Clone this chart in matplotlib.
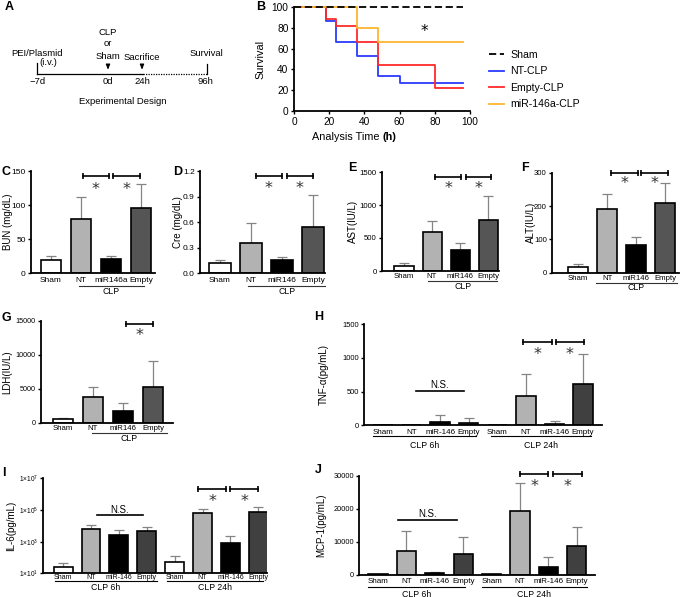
import numpy as np
import matplotlib
matplotlib.use('Agg')
import matplotlib.pyplot as plt
from matplotlib.transforms import blended_transform_factory

plt.rcParams['font.family'] = ['Liberation Sans', 'DejaVu Sans']
plt.rcParams['mathtext.fontset'] = 'custom'
plt.rcParams['mathtext.rm'] = 'Liberation Sans'
plt.rcParams['mathtext.it'] = 'Liberation Sans:italic'
plt.rcParams['mathtext.bf'] = 'Liberation Sans:bold'

W, H = 685, 597

# ---------------- data ----------------
# B: Kaplan-Meier survival (%)
sham_t = [0, 96];                          sham_s = [100, 100]
nt_t = [0, 18, 24, 36, 48, 60, 96];        nt_s = [100, 86.7, 66.7, 53.3, 33.3, 26.7, 26.7]
empty_t = [0, 18, 24, 36, 48, 80, 96];     empty_s = [100, 88.0, 81.3, 66.7, 44.4, 22.2, 22.2]
mir_t = [0, 36, 48, 96];                   mir_s = [100, 80, 66.7, 66.7]
surv_labels = ['Sham', 'NT-CLP', 'Empty-CLP', 'miR-146a-CLP']

# C-G (4 groups)
cats_c = ['Sham', 'NT', 'miR146a', 'Empty']
cats_4 = ['Sham', 'NT', 'miR146', 'Empty']
bun_mean = [20, 79, 21.5, 96];          bun_sd = [5, 33, 4.5, 35]
cre_mean = [0.125, 0.35, 0.155, 0.54];  cre_sd = [0.03, 0.245, 0.033, 0.38]
ast_mean = [70, 585, 320, 778];         ast_sd = [45, 177, 104, 363]
alt_mean = [18, 190, 82, 210];          alt_sd = [8, 46, 24, 60]
ldh_mean = [490, 3820, 1720, 5200];     ldh_sd = [245, 1470, 1220, 3820]

# H-J (8 groups: CLP 6h, CLP 24h)
cats_8 = ['Sham', 'NT', 'miR-146', 'Empty', 'Sham', 'NT', 'miR-146', 'Empty']
time_groups = ['CLP 6h', 'CLP 24h']
tnf_mean = [0, 8, 45, 35, 0, 431, 20, 614]
tnf_sd = [0, 0, 108, 74, 0, 331, 39, 445]
il6_mean = [25, 6000, 2500, 5000, 52, 61000, 785, 78500]
il6_sd = [20, 5000, 3000, 3000, 72, 54000, 1500, 69500]
mcp1_mean = [120, 7300, 500, 6400, 120, 19300, 2400, 8800]
mcp1_sd = [0, 5900, 300, 5200, 0, 8700, 3050, 5600]

# ---------------- figure ----------------
fig = plt.figure(figsize=(W / 100, H / 100), dpi=100)
ov = fig.add_axes([0, 0, 1, 1])
ov.set_xlim(0, W)
ov.set_ylim(H, 0)
ov.axis('off')
ov.patch.set_alpha(0)


def add_px(l, t, r, b):
    return fig.add_axes([l / W, 1 - b / H, (r - l) / W, (b - t) / H])


def style_axes(ax, lw=1.2):
    for s in ['top', 'right']:
        ax.spines[s].set_visible(False)
    for s in ['left', 'bottom']:
        ax.spines[s].set_linewidth(lw)
    ax.patch.set_alpha(0)


# ---------------- A: experimental design ----------------
fsA = 6.8
ov.plot([37, 143], [74, 74], color='k', lw=0.9)
ov.plot([143, 207], [74, 74], color='k', lw=0.9, ls=(0, (1, 1)))
ov.plot([37, 37], [63, 74], color='k', lw=0.9)
ov.plot([207, 207], [64, 74], color='k', lw=0.9)
for xa in [108, 142]:
    ov.annotate('', xy=(xa, 72.5), xytext=(xa, 63),
                arrowprops=dict(arrowstyle='-|>,head_length=0.3,head_width=0.12', lw=0.8, color='k'))
for txt, xx, yy in [('PEI/Plasmid', 36.7, 53), ('(i.v.)', 48.3, 62.5), ('CLP', 108, 32.3),
                    ('or', 108, 44), ('Sham', 108, 56.7), ('Sacrifice', 141.7, 57.3),
                    ('Survival', 206, 54), ('\u22127d', 38, 82), ('0d', 108, 82), ('24h', 142, 82),
                    ('96h', 205, 82)]:
    ov.text(xx, yy, txt, ha='center', va='center', fontsize=fsA)
ov.text(122.7, 102, 'Experimental Design', ha='center', va='center', fontsize=fsA)

# ---------------- B: survival ----------------
axB = add_px(294, 7, 470, 111)
style_axes(axB, 1.3)
lines = []
for t, s, c in [(nt_t, nt_s, '#2a3cff'), (empty_t, empty_s, '#ff2a2a'), (mir_t, mir_s, '#ffb52e')]:
    ln, = axB.step(t, s, where='post', color=c, lw=1.3, clip_on=False)
    lines.append(ln)
ls, = axB.plot(sham_t, sham_s, color='k', lw=1.3, clip_on=False, dashes=(4, 2))
axB.set_xlim(0, 100)
axB.set_ylim(0, 100)
axB.set_xticks([0, 20, 40, 60, 80, 100])
axB.set_yticks([0, 20, 40, 60, 80, 100])
axB.tick_params(axis='both', direction='out', length=2.5, width=1.0, labelsize=7.3, pad=1.5)
axB.text(74, 76, '*', ha='center', va='center', fontsize=11, family=['DejaVu Sans'])
ov.text(260.5, 59, 'Survival', rotation=90, ha='center', va='center', fontsize=7.8)
ov.text(383, 137, 'Analysis Time ', ha='right', va='center', fontsize=7.8)
ov.text(383, 137, '(h)', ha='left', va='center', fontsize=7.8, fontweight='bold')
leg = axB.legend([ls] + lines, surv_labels, loc='center left',
                 bbox_to_anchor=(489 / W, 1 - 79.5 / H), bbox_transform=fig.transFigure,
                 frameon=False, fontsize=7.6, handlelength=1.45, handletextpad=0.55,
                 labelspacing=0.62, borderpad=0, borderaxespad=0)

# ---------------- bar panels ----------------
def bar_panel(box, xlim, cats, mean, sd, fills, ylim, yticks, yticklabels, ylabel, ylabel_x,
              cat_off, cat_fs, unders, under_off, group_names, group_off,
              brackets=(), ns=None, log=False, ytick_fs=5.5, under_color='#333333'):
    l, t, r, b = box
    hpx = b - t
    ax = add_px(l, t, r, b)
    style_axes(ax, 1.3)
    x = np.arange(len(mean))
    if log:
        ax.set_yscale('log')
    ax.bar(x, mean, width=0.68, color=fills, edgecolor='black', linewidth=1.2, zorder=2)
    sd = np.asarray(sd, float)
    m = np.asarray(mean, float)
    keep = sd > 0
    ax.errorbar(x[keep], m[keep], yerr=[np.zeros(keep.sum()), sd[keep]], fmt='none',
                ecolor='#858585', elinewidth=0.9, capsize=3.5, capthick=0.9, zorder=1)
    ax.set_xlim(*xlim)
    ax.set_ylim(*ylim)
    ax.set_xticks([])
    ax.set_yticks(yticks)
    ax.set_yticklabels(yticklabels)
    ax.minorticks_off()
    ax.tick_params(axis='y', direction='out', length=2.5, width=1.0, labelsize=ytick_fs, pad=1.2)
    tr = blended_transform_factory(ax.transData, ax.transAxes)
    for xi, lab in zip(x, cats):
        ax.text(xi, -cat_off / hpx, lab, transform=tr, ha='center', va='center', fontsize=cat_fs)
    for (x0, x1), gname in zip(unders, group_names):
        ax.plot([x0, x1], [-under_off / hpx] * 2, transform=tr, color=under_color, lw=0.8,
                clip_on=False)
        ax.text((x0 + x1) / 2, -group_off / hpx, gname, transform=tr, ha='center', va='center',
                fontsize=6.3)
    for x0, x1, yb, ya in brackets:
        ax.plot([x0, x1], [yb, yb], color='k', lw=1.2, marker='|', ms=5, mew=1.2, clip_on=False)
        ax.annotate('*', xy=((x0 + x1) / 2, ya), xytext=(0, -0.56 * 11.5), textcoords='offset points',
                    ha='center', va='baseline', fontsize=11.5, color='#333333',
                    family=['DejaVu Sans'], annotation_clip=False)
    if ns is not None:
        x0, x1, yl, yt = ns
        ax.plot([x0, x1], [yl, yl], color='k', lw=1.2, clip_on=False)
        ax.text((x0 + x1) / 2, yt, 'N.S.', ha='center', va='center', fontsize=7)
    ov.text(ylabel_x, (t + b) / 2, ylabel, rotation=90, ha='center', va='center', fontsize=7)
    return ax


fill4 = ['white', '#b2b2b2', 'black', '#555555']
fill8 = ['white', '#b2b2b2', 'black', '#404040'] * 2

# C
bar_panel((31, 171, 155, 273.3), (-0.667, 3.467), cats_c, bun_mean, bun_sd, fill4,
          (0, 150), [0, 50, 100, 150], ['0', '50', '100', '150'], 'BUN (mg/dL)', 8,
          6.7, 6.0, [(0.93, 3.1)], 12.4, ['CLP'], 17.7,
          brackets=[(1.06, 1.94, 142.6, 130), (2.08, 2.97, 142.6, 130)], ytick_fs=6.0)
# D
bar_panel((200, 171, 325, 273.3), (-0.645, 3.387), cats_4, cre_mean, cre_sd, fill4,
          (0, 1.2), [0, 0.3, 0.6, 0.9, 1.2], ['0.0', '0.3', '0.6', '0.9', '1.2'], 'Cre (mg/dL)', 178,
          6.7, 6.0, [(0.9, 3.4)], 12.4, ['CLP'], 17.7,
          brackets=[(1.15, 2.0, 1.141, 1.044), (2.15, 3.0, 1.141, 1.044)], ytick_fs=6.0)
# E
bar_panel((382, 172, 499, 271), (-0.786, 3.39), cats_4, ast_mean, ast_sd, fill4,
          (0, 1500), [0, 500, 1000, 1500], ['0', '500', '1000', '1500'], 'AST(IU/L)', 352.5,
          5.2, 5.6, [(0.86, 3.32)], 10, ['CLP'], 15.7,
          brackets=[(1.1, 2.05, 1424, 1318), (2.2, 3.1, 1424, 1318)], ytick_fs=5.6)
# F
bar_panel((552, 172.7, 679, 272.7), (-0.9, 3.48), cats_4, alt_mean, alt_sd, fill4,
          (0, 300), [0, 100, 200, 300], ['0', '100', '200', '300'], 'ALT(IU/L)', 530.5,
          5.6, 5.6, [(0.62, 3.41)], 9.8, ['CLP'], 15.2,
          brackets=[(1.13, 2.05, 300, 281), (2.16, 3.09, 300, 281)], ytick_fs=5.6)
# G
bar_panel((40.7, 320.7, 173, 422.7), (-0.74, 3.67), cats_4, ldh_mean, ldh_sd, fill4,
          (0, 15000), [0, 5000, 10000, 15000], ['0', '5000', '10000', '15000'], 'LDH(IU/L)', 7,
          5.6, 5.6, [(0.96, 3.46)], 10, ['CLP'], 15.6,
          brackets=[(2.1, 2.99, 14510, 13530)], ytick_fs=5.2)
# H
bar_panel((364, 324.3, 602, 425.3), (-0.66, 7.66), cats_8, tnf_mean, tnf_sd, fill8,
          (0, 1500), [0, 500, 1000, 1500], ['0', '500', '1000', '1500'], 'TNF-\u03b1(pg/mL)', 324,
          7, 5.8, [(-0.35, 3.25), (3.78, 7.27)], 10.7, time_groups, 20.4,
          brackets=[(4.9, 5.9, 1233, 1119), (6.05, 7.03, 1233, 1119)],
          ns=(1.15, 2.83, 515, 600), ytick_fs=5.4, under_color='black')
# I
bar_panel((43.3, 478.3, 267, 573.3), (-0.71, 7.31), cats_8, il6_mean, il6_sd, fill8,
          (10, 1e7), [1e1, 1e3, 1e5, 1e7],
          [r'$1{\times}10^{1}$', r'$1{\times}10^{3}$', r'$1{\times}10^{5}$', r'$1{\times}10^{7}$'],
          'IL-6(pg/mL)', 11,
          4.2, 5.0, [(-0.29, 3.37), (3.73, 7.17)], 7.6, time_groups, 14.4,
          brackets=[(4.85, 5.85, 2.0e6, 6.9e5), (6.0, 7.0, 2.0e6, 6.9e5)],
          ns=(1.2, 2.88, 4.6e4, 1.05e5), log=True, ytick_fs=4.8, under_color='black')
# J
bar_panel((359, 476, 595, 574.7), (-0.67, 7.64), cats_8, mcp1_mean, mcp1_sd, fill8,
          (0, 30000), [0, 10000, 20000, 30000], ['0', '10000', '20000', '30000'], 'MCP-1(pg/mL)', 321,
          6.3, 5.8, [(-0.35, 3.07), (3.65, 7.35)], 12.3, time_groups, 19.3,
          brackets=[(5.0, 6.0, 30600, 28270), (6.15, 7.17, 30600, 28270)],
          ns=(0.72, 2.77, 16600, 18300), ytick_fs=5.3, under_color='black')

# panel letters
for letter, xx, yy in [('A', 9, 7), ('B', 261, 7), ('C', 6, 172), ('D', 178, 172), ('E', 352, 168),
                       ('F', 525, 168), ('G', 6, 318), ('H', 319, 317), ('I', 4, 473), ('J', 318, 470)]:
    ov.text(xx, yy, letter, ha='center', va='center', fontsize=9, fontweight='bold')

fig.savefig('out.png', dpi=100)
